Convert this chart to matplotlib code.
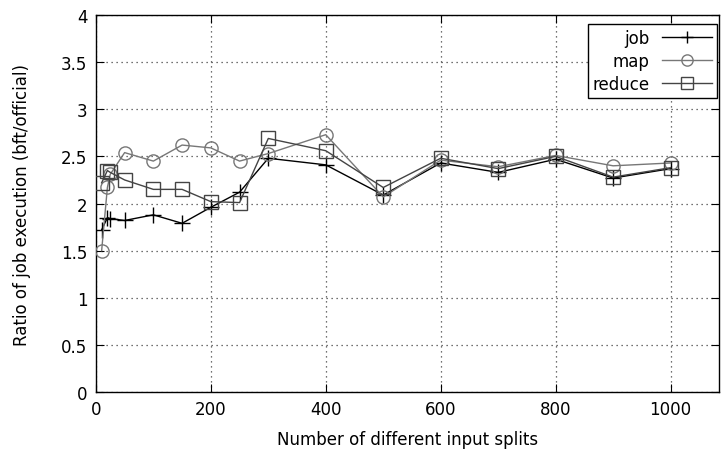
import matplotlib
matplotlib.use("Agg")
import matplotlib.pyplot as plt

splits = [10, 20, 25, 50, 100, 150, 200, 250, 300, 400, 500, 600, 700, 800, 900, 1000]
job = [1.72, 1.85, 1.84, 1.82, 1.88, 1.79, 1.96, 2.12, 2.48, 2.41, 2.09, 2.43, 2.33, 2.47, 2.27, 2.37]
map_ = [1.50, 2.17, 2.31, 2.54, 2.45, 2.62, 2.59, 2.45, 2.53, 2.73, 2.07, 2.46, 2.39, 2.51, 2.40, 2.43]
reduce_ = [2.22, 2.35, 2.33, 2.25, 2.15, 2.15, 2.02, 2.01, 2.69, 2.56, 2.17, 2.48, 2.37, 2.50, 2.28, 2.38]

xticks = [0, 200, 400, 600, 800, 1000]
yticks = [0, 0.5, 1, 1.5, 2, 2.5, 3, 3.5, 4]
ytick_labels = ["0", "0.5", "1", "1.5", "2", "2.5", "3", "3.5", "4"]

plt.rcParams['font.family'] = ['DejaVu Sans']
fig = plt.figure(figsize=(7.21, 4.56), dpi=100)
ax = fig.add_axes([0.133, 0.138, 0.864, 0.827])

ax.plot(splits, job, color='black', lw=1.0, marker='+', markersize=11,
        markeredgewidth=1.0, label='job', zorder=3)
ax.plot(splits, map_, color='#777777', lw=1.0, marker='o', markersize=9.5,
        markerfacecolor='none', markeredgewidth=1.0, label='map', zorder=3)
ax.plot(splits, reduce_, color='#444444', lw=1.0, marker='s', markersize=9.5,
        markerfacecolor='none', markeredgewidth=1.0, label='reduce', zorder=3)

ax.set_xlim(0, 1084)
ax.set_ylim(0, 4)
ax.set_xticks(xticks)
ax.set_yticks(yticks)
ax.set_yticklabels(ytick_labels)
ax.tick_params(direction='in', length=6, top=True, right=True, labelsize=12,
               colors='black', width=0.8, pad=6)
ax.grid(True, linestyle=(0, (1, 3)), color='#444444', linewidth=0.9)
for s in ax.spines.values():
    s.set_linewidth(1.0)

ax.set_xlabel('Number of different input splits', fontsize=12, labelpad=8)
ax.set_ylabel('Ratio of job execution (bft/official)', fontsize=12, labelpad=22)

leg = ax.legend(loc='upper right', bbox_to_anchor=(1.0, 0.98), markerfirst=False,
                fontsize=12, frameon=True, fancybox=False, edgecolor='black',
                framealpha=1, handlelength=3.0, borderaxespad=0.1,
                labelspacing=0.3, handletextpad=0.75, borderpad=0.3,
                markerscale=0.85)
leg.get_frame().set_linewidth(1.0)

fig.savefig('out.png', dpi=100)
